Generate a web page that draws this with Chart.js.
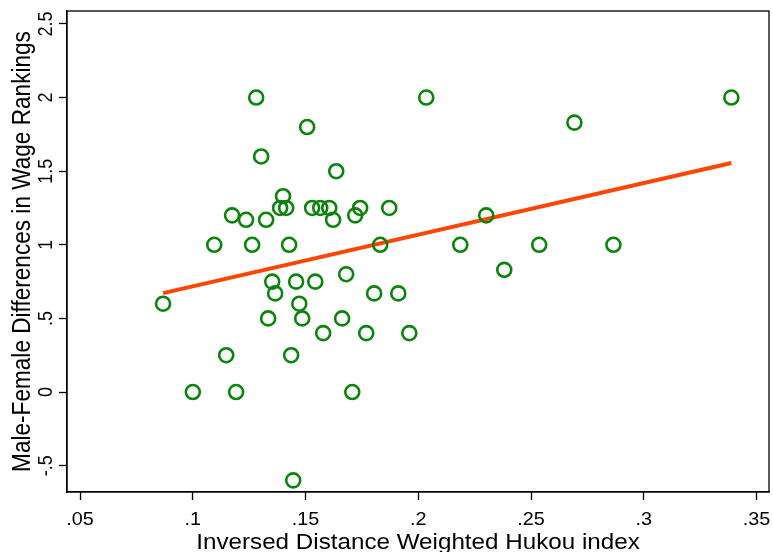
<!DOCTYPE html>
<html>
<head>
<meta charset="utf-8">
<script src="https://cdn.jsdelivr.net/npm/chart.js@4/dist/chart.umd.min.js"></script>
<style>
  html, body { margin: 0; padding: 0; background: #fff; }
  #wrap { width: 773px; height: 552px; }
</style>
</head>
<body>
<div id="wrap"><canvas id="scatterChart"></canvas></div>
<script>
// hukou index (x) vs male-female wage ranking difference (y)
var hukouIdx = [.0868, .1, .1095, .1148, .1174, .1192, .1236, .1263, .1281, .1303,
  .1325, .1334, .1352, .1365, .1387, .14, .1414, .1427, .1436, .1445,
  .1458, .1472, .1485, .1507, .1529, .1543, .1565, .1578, .1605, .1622,
  .1636, .1662, .168, .1707, .172, .1742, .1769, .1804, .1831, .1871,
  .1911, .196, .2035, .2186, .2301, .2381, .2536, .2692, .2865, .3388];
var wageDiff = [.6, 0, 1, .25, 1.2, 0, 1.17, 1, 2, 1.6,
  1.17, .5, .75, .67, 1.25, 1.33, 1.25, 1, .25, -.6,
  .75, .6, .5, 1.8, 1.25, .75, 1.25, .4, 1.25, 1.17,
  1.5, .5, .8, 0, 1.2, 1.25, .4, .67, 1, 1.25,
  .67, .4, 2, 1, 1.2, .83, 1, 1.83, 1, 2];

// fitted line end points
var fitX = [.0868, .3388];
var fitY = [.672, 1.556];

var xTicks = [.05, .1, .15, .2, .25, .3, .35];
var xTickLabels = ['.05', '.1', '.15', '.2', '.25', '.3', '.35'];
var yTicks = [-.5, 0, .5, 1, 1.5, 2, 2.5];
var yTickLabels = ['-.5', '0', '.5', '1', '1.5', '2', '2.5'];

var xTitle = 'Inversed Distance Weighted Hukou index';
var yTitle = 'Male-Female Differences in Wage Rankings';

var FONT = 'Liberation Sans, Arial, sans-serif';
var STRETCH = 1.1; // the original text is a bit wide

var pts = hukouIdx.map(function(x, i) { return {x: x, y: wageDiff[i]}; });
var fit = fitX.map(function(x, i) { return {x: x, y: fitY[i]}; });

function setTicks(vals) {
  return function(scale) {
    scale.ticks = vals.map(function(v) { return {value: v}; });
  };
}

function wideText(ctx, txt, x, y, rot) {
  ctx.save();
  ctx.translate(x, y);
  ctx.scale(STRETCH, 1);
  if (rot) ctx.rotate(rot);
  ctx.fillText(txt, 0, 0);
  ctx.restore();
}

// frame, tick labels and titles drawn Stata style
var framePlugin = {
  id: 'frame',
  afterDraw: function(chart) {
    var ctx = chart.ctx, a = chart.chartArea;
    var xs = chart.scales.x, ys = chart.scales.y;
    ctx.save();
    ctx.strokeStyle = '#000';
    ctx.lineWidth = 1.3;
    ctx.strokeRect(a.left, a.top, a.right - a.left, a.bottom - a.top);
    ctx.fillStyle = '#000';
    ctx.textAlign = 'center';
    ctx.textBaseline = 'alphabetic';

    ctx.font = '18px ' + FONT;
    xTicks.forEach(function(v, i) {
      wideText(ctx, xTickLabels[i], xs.getPixelForValue(v), 524.5);
    });
    yTicks.forEach(function(v, i) {
      wideText(ctx, yTickLabels[i], 52, ys.getPixelForValue(v), -Math.PI / 2);
    });

    ctx.font = '22px ' + FONT;
    wideText(ctx, xTitle, (a.left + a.right) / 2, 548.5);
    ctx.font = '22.6px ' + FONT;
    wideText(ctx, yTitle, 30, (a.top + a.bottom) / 2, -Math.PI / 2);
    ctx.restore();
  }
};

var hidden = 'rgba(0,0,0,0)';

new Chart(document.getElementById('scatterChart'), {
  type: 'scatter',
  data: {
    datasets: [{
      data: pts,
      showLine: false,
      pointStyle: 'circle',
      pointRadius: 7,
      pointHoverRadius: 7,
      pointBorderWidth: 2.6,
      pointBorderColor: '#0b840b',
      pointBackgroundColor: 'transparent'
    }, {
      data: fit,
      showLine: true,
      borderColor: '#ff4500',
      borderWidth: 4,
      pointRadius: 0,
      fill: false
    }]
  },
  options: {
    responsive: true,
    maintainAspectRatio: false,
    animation: false,
    layout: { autoPadding: false, padding: { top: 11, right: 4, left: 0, bottom: 0 } },
    plugins: { legend: { display: false }, tooltip: { enabled: false } },
    scales: {
      x: {
        type: 'linear',
        min: .0442,
        max: .3555,
        afterBuildTicks: setTicks(xTicks),
        afterFit: function(s) { s.height = 60; s.paddingLeft = 0; s.paddingRight = 0; },
        border: { display: true, color: '#000', width: 1.3 },
        grid: { display: true, drawOnChartArea: false, drawTicks: true, tickLength: 8, tickColor: '#000', tickWidth: 1.3 },
        ticks: {
          color: hidden,
          font: { family: FONT, size: 18 },
          maxRotation: 0,
          callback: function(v, i) { return xTickLabels[i]; }
        }
      },
      y: {
        type: 'linear',
        min: -.679,
        max: 2.588,
        afterBuildTicks: setTicks(yTicks),
        afterFit: function(s) { s.width = 67; s.paddingTop = 0; s.paddingBottom = 0; },
        border: { display: true, color: '#000', width: 1.3 },
        grid: { display: true, drawOnChartArea: false, drawTicks: true, tickLength: 8, tickColor: '#000', tickWidth: 1.3 },
        ticks: {
          color: hidden,
          font: { family: FONT, size: 18 },
          callback: function(v, i) { return yTickLabels[i]; }
        }
      }
    }
  },
  plugins: [framePlugin]
});
</script>
</body>
</html>
